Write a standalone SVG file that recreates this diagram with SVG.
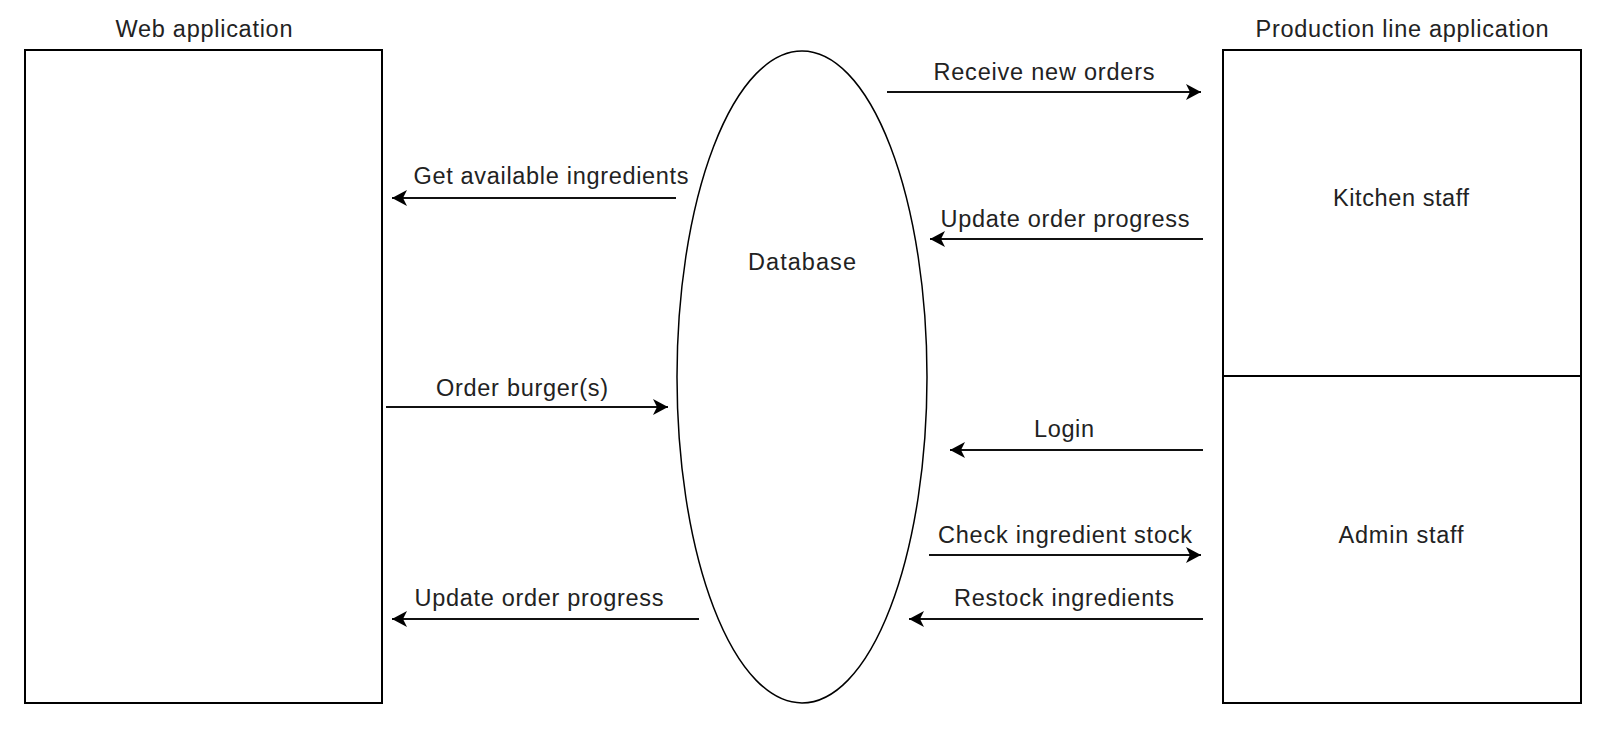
<svg xmlns="http://www.w3.org/2000/svg" width="1623" height="735" viewBox="0 0 1623 735">
<style>
text{font-family:"Liberation Sans",Arial,sans-serif;font-size:23.5px;fill:#222;text-anchor:middle}
.box{fill:#fff;stroke:#000;stroke-width:2}
.ell{fill:#fff;stroke:#000;stroke-width:1.5}
.con line{stroke:#111;stroke-width:2;marker-end:url(#arr)}
</style>
<defs>
<marker id="arr" markerUnits="userSpaceOnUse" markerWidth="18" markerHeight="16" refX="15" refY="8" orient="auto">
<path d="M0,0 L15,8 L0,16 L4,8 Z" fill="#000"/>
</marker>
</defs>
<rect width="1623" height="735" fill="#fff"/>
<g id="web-app">
<text x="204" y="37" textLength="177" lengthAdjust="spacing">Web application</text>
<rect class="box" x="25" y="50" width="357" height="653"/>
</g>
<g id="database">
<ellipse class="ell" cx="802" cy="377" rx="125" ry="326"/>
<text x="802" y="270" textLength="108" lengthAdjust="spacing">Database</text>
</g>
<g id="production-app">
<text x="1402" y="37" textLength="293" lengthAdjust="spacing">Production line application</text>
</g>
<g id="kitchen-staff">
<rect class="box" x="1223" y="50" width="358" height="326"/>
<text x="1401" y="206" textLength="136" lengthAdjust="spacing">Kitchen staff</text>
</g>
<g id="admin-staff">
<rect class="box" x="1223" y="376" width="358" height="327"/>
<text x="1401" y="543" textLength="125" lengthAdjust="spacing">Admin staff</text>
</g>
<g id="connectors" class="con">
<line x1="887" y1="92" x2="1201" y2="92"/>
<text x="1044" y="80" textLength="221" lengthAdjust="spacing">Receive new orders</text>
<line x1="676" y1="198" x2="392" y2="198"/>
<text x="551" y="184" textLength="275" lengthAdjust="spacing">Get available ingredients</text>
<line x1="1203" y1="239" x2="930" y2="239"/>
<text x="1065" y="227" textLength="249" lengthAdjust="spacing">Update order progress</text>
<line x1="386" y1="407" x2="668" y2="407"/>
<text x="522" y="396" textLength="172" lengthAdjust="spacing">Order burger(s)</text>
<line x1="1203" y1="450" x2="950" y2="450"/>
<text x="1064" y="437" textLength="60" lengthAdjust="spacing">Login</text>
<line x1="929" y1="555" x2="1201" y2="555"/>
<text x="1065" y="543" textLength="254" lengthAdjust="spacing">Check ingredient stock</text>
<line x1="1203" y1="619" x2="909" y2="619"/>
<text x="1064" y="606" textLength="220" lengthAdjust="spacing">Restock ingredients</text>
<line x1="699" y1="619" x2="392" y2="619"/>
<text x="539" y="606" textLength="249" lengthAdjust="spacing">Update order progress</text>
</g>
</svg>
